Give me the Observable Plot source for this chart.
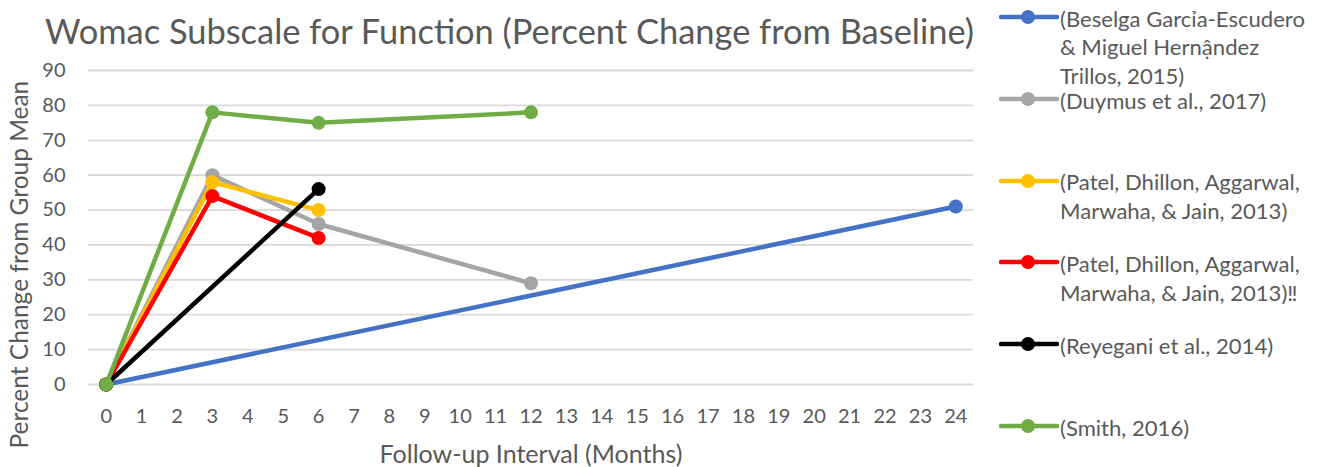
<!DOCTYPE html>
<html>
<head>
<meta charset="utf-8">
<script src="https://cdn.jsdelivr.net/npm/d3@7"></script>
<script src="https://cdn.jsdelivr.net/npm/@observablehq/plot@0.6"></script>
<style>
  html, body { margin: 0; padding: 0; background: #fff; }
  #wrap { position: relative; width: 1326px; height: 467px; overflow: hidden; font-family: Lato, sans-serif; color: #595959; }
  #wrap .abs { position: absolute; white-space: nowrap; }
  #chart { position: absolute; left: 0; top: 0; }
  .legtext { position: absolute; white-space: pre; }
</style>
</head>
<body>
<div id="wrap">
  <div id="chart"></div>
</div>
<script>
// ---------- data ----------
const seriesNames = [
  "(Beselga Garcỉa-Escudero\n& Miguel Hernậndez\nTrillos, 2015)",
  "(Duymus et al., 2017)",
  "(Patel, Dhillon, Aggarwal,\nMarwaha, & Jain, 2013)",
  "(Patel, Dhillon, Aggarwal,\nMarwaha, & Jain, 2013)‼",
  "(Reyegani et al., 2014)",
  "(Smith, 2016)"
];
const seriesColors = ["#4472C4", "#A5A5A5", "#FFC000", "#FF0000", "#000000", "#70AD47"];
const seriesMonths = [
  [0, 24],
  [0, 3, 6, 12],
  [0, 3, 6],
  [0, 3, 6],
  [0, 6],
  [0, 3, 6, 12]
];
const seriesValues = [
  [0, 51],
  [0, 60, 46, 29],
  [0, 58, 50],
  [0, 54, 42],
  [0, 56],
  [0, 78, 75, 78]
];
const monthTicks = [0,1,2,3,4,5,6,7,8,9,10,11,12,13,14,15,16,17,18,19,20,21,22,23,24];
const valueTicks = [0,10,20,30,40,50,60,70,80,90];
const titleText = "Womac Subscale for Function (Percent Change from Baseline)";
const xTitle = "Follow-up Interval (Months)";
const yTitle = "Percent Change from Group Mean";

// ---------- helpers ----------
const FONT = "Lato";
const cvs = document.createElement("canvas").getContext("2d");
function fitSize(text, target) {
  cvs.font = `100px ${FONT}`;
  return 100 * target / cvs.measureText(text).width;
}

// ---------- table ----------
const rows = [];
seriesNames.forEach((name, i) => {
  seriesMonths[i].forEach((m, j) => rows.push({series: name, month: m, value: seriesValues[i][j]}));
});

const marks = [
  Plot.gridY(valueTicks, {stroke: "#d9d9d9", strokeOpacity: 1, strokeWidth: 1.8})
];
seriesNames.forEach((name) => {
  const data = rows.filter(d => d.series === name);
  marks.push(Plot.line(data, {x: "month", y: "value", stroke: "series", strokeWidth: 4.5, strokeLinejoin: "round", strokeLinecap: "round"}));
  marks.push(Plot.dot(data, {x: "month", y: "value", fill: "series", r: 7}));
});

const chart = Plot.plot({
  width: 990,
  height: 467,
  marginLeft: 88,
  marginRight: 17,
  marginTop: 70,
  marginBottom: 83,
  style: {fontFamily: FONT, fontSize: "20px", color: "#595959", background: "transparent", overflow: "visible"},
  x: {domain: [-0.5, 24.5], ticks: monthTicks, tickSize: 0, tickPadding: 24, label: null, tickFormat: d => String(d)},
  y: {domain: [0, 90], ticks: valueTicks, tickSize: 0, tickPadding: 23, label: null, tickFormat: d => String(d)},
  color: {domain: seriesNames, range: seriesColors},
  marks
});
document.getElementById("chart").appendChild(chart);

const wrap = document.getElementById("wrap");

// title
const t = document.createElement("div");
t.className = "abs";
t.textContent = titleText;
const tSize = fitSize(titleText, 930);
t.style.fontSize = tSize + "px";
t.style.left = "45px";
t.style.top = (31 - tSize * 0.62) + "px";
t.style.lineHeight = "1.2";
wrap.appendChild(t);

// x title
const xt = document.createElement("div");
xt.className = "abs";
xt.textContent = xTitle;
const xSize = fitSize(xTitle, 303);
xt.style.fontSize = xSize + "px";
xt.style.lineHeight = "1";
xt.style.left = (531 - 303 / 2) + "px";
xt.style.top = (455 - xSize * 0.55) + "px";
wrap.appendChild(xt);

// y title
const yt = document.createElement("div");
yt.className = "abs";
yt.textContent = yTitle;
const ySize = fitSize(yTitle, 368);
yt.style.fontSize = ySize + "px";
yt.style.lineHeight = "1";
yt.style.left = (20 - 368 / 2) + "px";
yt.style.top = (264 - ySize * 0.55) + "px";
yt.style.width = "368px";
yt.style.transform = "rotate(-90deg)";
yt.style.transformOrigin = "50% 55%";
wrap.appendChild(yt);

// legend
const legSize = fitSize("(Beselga Garcỉa-Escudero", 245);
const lineH = 28.5;
seriesNames.forEach((name, i) => {
  const cy = 17 + i * 81.8;
  const s = d3.select(wrap).append("svg")
    .attr("width", 60).attr("height", 20)
    .style("position", "absolute").style("left", "999px").style("top", (cy - 10) + "px");
  s.append("line").attr("x1", 2).attr("x2", 58).attr("y1", 10).attr("y2", 10)
    .attr("stroke", seriesColors[i]).attr("stroke-width", 4.5).attr("stroke-linecap", "round");
  s.append("circle").attr("cx", 29).attr("cy", 10).attr("r", 7).attr("fill", seriesColors[i]);
  const d = document.createElement("div");
  d.className = "legtext";
  d.textContent = name;
  d.style.fontSize = legSize + "px";
  d.style.lineHeight = lineH + "px";
  d.style.left = "1060px";
  d.style.top = (cy - lineH / 2 + 2) + "px";
  wrap.appendChild(d);
});
</script>
</body>
</html>
